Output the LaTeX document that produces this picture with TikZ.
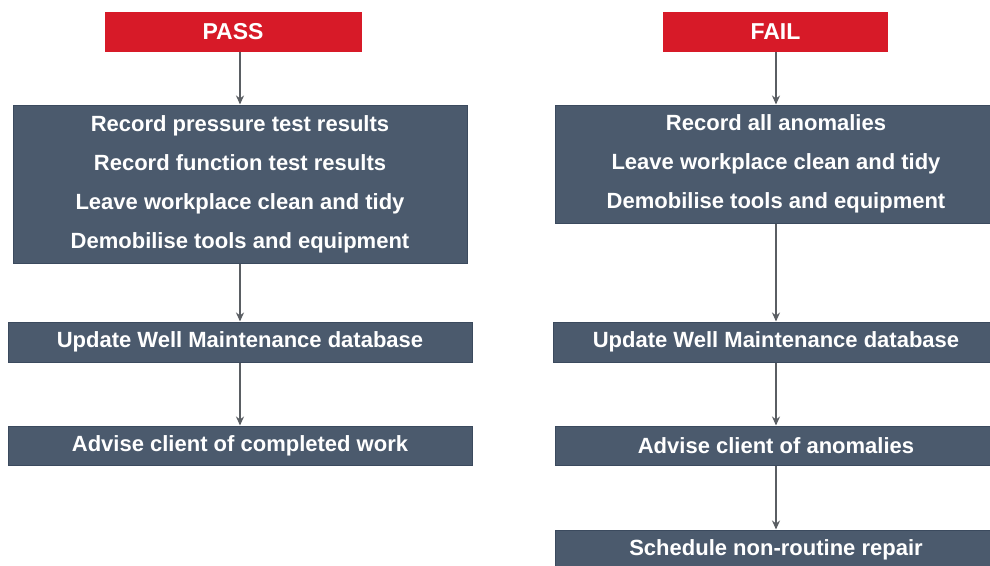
\documentclass[tikz,border=0pt]{standalone}
\usepackage{fontspec}
\setmainfont{Liberation Sans}
\usepackage{tikz}
\usetikzlibrary{arrows.meta}

\definecolor{passred}{HTML}{D71A28}
\definecolor{slate}{HTML}{4B5A6D}
\definecolor{slateedge}{HTML}{3B4A5E}
\definecolor{arrowgray}{HTML}{5A5E63}

\tikzset{
  head/.style={fill=passred, text=white, font=\bfseries\fontsize{23}{26}\selectfont, inner sep=0pt},
  task/.style={fill=slate, draw=slateedge, line width=1pt, text=white, align=center,
    font=\bfseries\fontsize{22}{39}\selectfont, inner sep=0pt},
  flow/.style={-{Stealth[length=9pt,width=8pt]}, draw=arrowgray, line width=1.6pt}
}

\begin{document}
\begin{tikzpicture}[x=1pt,y=-1pt]
      \useasboundingbox (0,0) rectangle (990,565);
      % pass side
      \node[head, minimum width=257, minimum height=40] (pass) at (233,32) {PASS};
      \node[task, minimum width=454, minimum height=158] (recL) at (240,184)
        {Record pressure test results\\Record function test results\\Leave workplace clean and tidy\\Demobilise tools and equipment};
      \node[task, minimum width=464, minimum height=40] (updL) at (240,342) {Update Well Maintenance database};
      \node[task, minimum width=464, minimum height=39] (advL) at (240,445.5) {Advise client of completed work};
      % fail side
      \node[head, minimum width=225, minimum height=40] (fail) at (775.5,32) {FAIL};
      \node[task, minimum width=442, minimum height=118] (recR) at (776,164)
        {Record all anomalies\\Leave workplace clean and tidy\\Demobilise tools and equipment};
      \node[task, minimum width=446, minimum height=40] (updR) at (776,342) {Update Well Maintenance database};
      \node[task, minimum width=442, minimum height=39] (advR) at (776,445.5) {Advise client of anomalies};
      \node[task, minimum width=442, minimum height=40] (schR) at (776,550) {Schedule non-routine repair};
      % connectors
      \draw[flow] (recL.north |- pass.south) -- (recL.north);
      \draw[flow] (recL) -- (updL);
      \draw[flow] (updL) -- (advL);
      \draw[flow] (recR.north |- fail.south) -- (recR.north);
      \draw[flow] (recR) -- (updR);
      \draw[flow] (updR) -- (advR);
      \draw[flow] (advR) -- (schR);
    \end{tikzpicture}
\end{document}
